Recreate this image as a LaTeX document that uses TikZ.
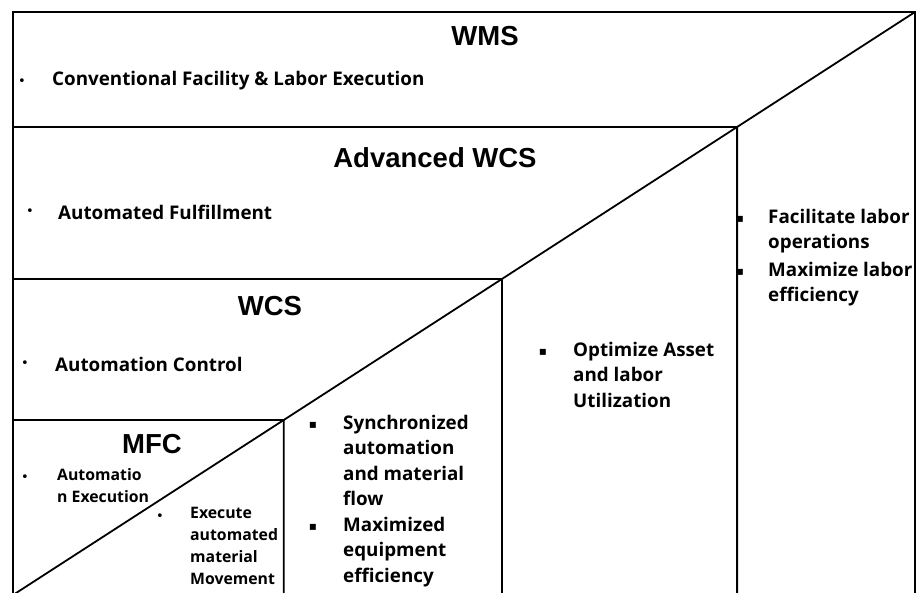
\documentclass[tikz,border=0pt]{standalone}
\usepackage{fontspec}
\setmainfont{Open Sans}
\newfontfamily\headfont{Liberation Sans}
\newfontfamily\symfont{DejaVu Sans}
\begin{document}
\begin{tikzpicture}[x=1pt,y=-1pt,
  frame/.style={line width=2.4pt},
  divider/.style={line width=1.8pt},
  title/.style={font=\headfont\bfseries\fontsize{27.5}{30}\selectfont, inner sep=0},
  body/.style={font=\bfseries\fontsize{18.8}{25.5}\selectfont, inner sep=0, align=left, anchor=north west},
  bodyline/.style={font=\bfseries\fontsize{18.8}{25.5}\selectfont, inner sep=0, anchor=west},
  small/.style={font=\bfseries\fontsize{15.8}{22}\selectfont, inner sep=0, align=left, anchor=north west},
  dot/.style={font=\symfont\fontsize{13}{13}\selectfont, inner sep=0},
  sq/.style={font=\symfont\fontsize{12}{12}\selectfont, inner sep=0}]
\useasboundingbox (0,0) rectangle (917,593);
\fill[white] (0,0) rectangle (917,593);

% frame corners and the rising diagonal
\coordinate (tl) at (13,12);
\coordinate (tr) at (915,12);
\coordinate (bl) at (13,593);
\coordinate (br) at (915,593);
\coordinate (dlow) at (13,595);

% left ends of the layer dividers
\coordinate (h1l) at (13,127);
\coordinate (h1r) at (915,127);
\coordinate (h2l) at (13,279);
\coordinate (h2r) at (915,279);
\coordinate (h3l) at (13,420);
\coordinate (h3r) at (915,420);

% where each divider meets the diagonal
\coordinate (p1) at (intersection of dlow--tr and h1l--h1r);
\coordinate (p2) at (intersection of dlow--tr and h2l--h2r);
\coordinate (p3) at (intersection of dlow--tr and h3l--h3r);

\draw[frame] (bl) -- (tl) -- (tr) -- (br);
\draw[divider] (dlow) -- (tr);
\draw[divider] (h1l) -- (p1) -- (p1 |- br);
\draw[divider] (h2l) -- (p2) -- (p2 |- br);
\draw[divider] (h3l) -- (p3) -- (p3 |- br);

% WMS layer
\node[title] (wms) at (485,36) {WMS};
\node[dot] (b1) at (22,82) {•};
\node[bodyline] (t1) at (52,81) {Conventional Facility \& Labor Execution};

% Advanced WCS layer
\node[title] (awcs) at (435,158) {Advanced WCS};
\node[dot] (b2) at (30,212) {•};
\node[bodyline] (t2) at (58,212) {Automated Fulfillment};

% WCS layer
\node[title] (wcs) at (270,306) {WCS};
\node[dot] (b3) at (25,364) {•};
\node[bodyline] (t3) at (55,364) {Automation Control};

% MFC layer
\node[title] (mfc) at (152,444) {MFC};
\node[dot] (b4) at (25,478) {•};
\node[small] (t4) at (57,468) {Automatio\\n Execution};
\node[dot] (b5) at (160,517) {•};
\node[small] (t5) at (190,507) {Execute\\automated\\material\\Movement};

% benefit columns
\node[sq] (b6) at (313,425) {▪};
\node[body] (t6) at (343,415) {Synchronized\\automation\\and material\\flow};
\node[sq] (b7) at (313,527) {▪};
\node[body] (t7) at (343,517) {Maximized\\equipment\\efficiency};

\node[sq] (b8) at (543,352) {▪};
\node[body] (t8) at (573,342) {Optimize Asset\\and labor\\Utilization};

\node[sq] (b9) at (740,219) {▪};
\node[body] (t9) at (768,209) {Facilitate labor\\operations};
\node[sq] (b10) at (740,272) {▪};
\node[body] (t10) at (768,262) {Maximize labor\\efficiency};
\end{tikzpicture}
\end{document}
